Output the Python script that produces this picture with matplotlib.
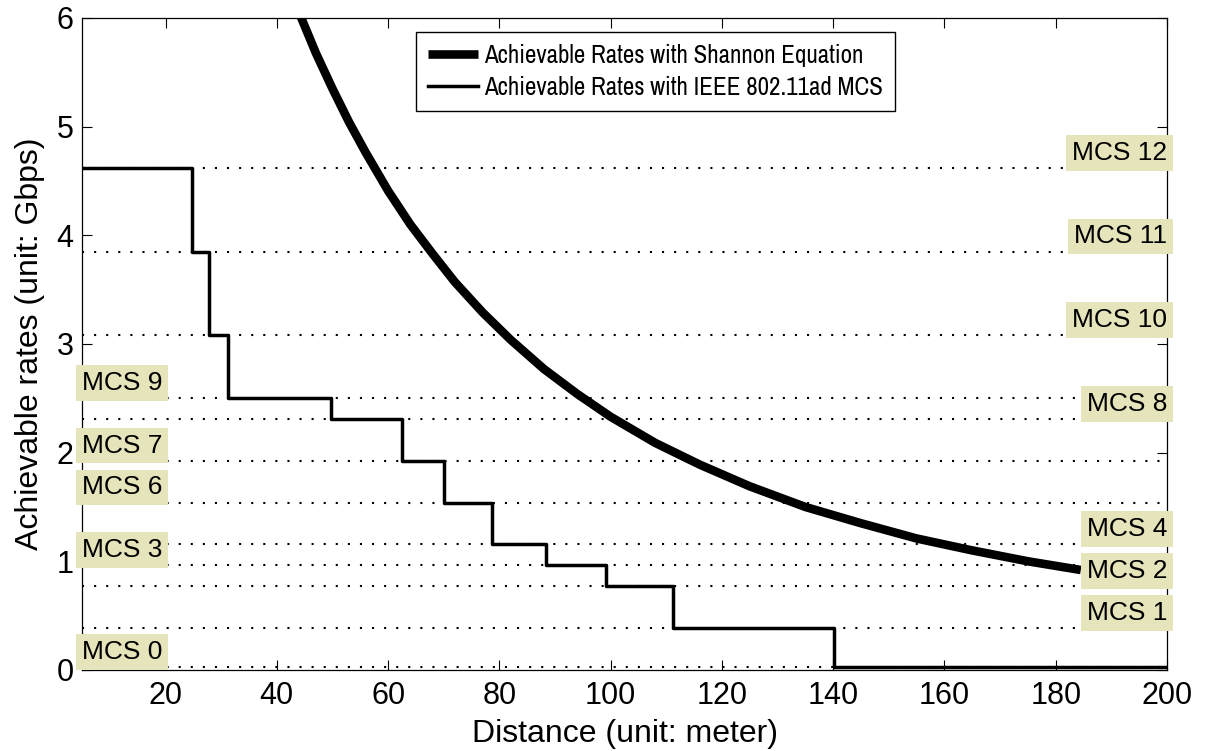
import numpy as np
import matplotlib
matplotlib.use("Agg")
import matplotlib.pyplot as plt
from matplotlib import font_manager

# IEEE 802.11ad MCS rates (Gbps) that are marked on the chart
mcs_ids = [0, 1, 2, 3, 4, 6, 7, 8, 9, 10, 11, 12]
mcs_rates = [0.0275, 0.385, 0.77, 0.9625, 1.155, 1.54, 1.925, 2.31, 2.5025, 3.08, 3.85, 4.62]
left_labels = [0, 3, 6, 7, 9]

# staircase: distance where each rate level ends
step_edges = [5, 24.85, 27.8, 31.25, 49.7, 62.5, 70.0, 78.6, 88.35, 99.1, 111.2, 140.1, 200]
step_rates = [4.62, 3.85, 3.08, 2.5025, 2.31, 1.925, 1.54, 1.155, 0.9625, 0.77, 0.385, 0.0275]

# Shannon curve
shannon_dist = [44, 47, 50, 53, 56, 60, 64, 68, 72, 77, 82, 88, 94, 100,
                108, 116, 125, 135, 145, 155, 165, 175, 184.5]
shannon_rate = [6.05, 5.68, 5.35, 5.04, 4.76, 4.41, 4.10, 3.83, 3.57, 3.29,
                3.04, 2.77, 2.54, 2.33, 2.09, 1.89, 1.69, 1.50, 1.35, 1.21,
                1.10, 1.00, 0.92]

xticks = list(range(20, 201, 20))
yticks = list(range(0, 7))

base_font = "Liberation Sans"
names = {f.name for f in font_manager.fontManager.ttflist}
legend_font = dict(family=base_font, size=16)
for cand in ["Liberation Sans Narrow", "Archivo Narrow", "Roboto Condensed"]:
    if cand in names:
        legend_font = dict(family=cand, size=18)
        break

plt.rcParams["font.family"] = [base_font, "DejaVu Sans"]

fig = plt.figure(figsize=(12.1, 7.51), dpi=100)
ax = fig.add_axes([0.0678, 0.1079, 0.8967, 0.8682])

for r in mcs_rates:
    ax.axhline(r, color="black", linewidth=1.5, linestyle=(0, (1, 4.8)),
               dash_capstyle="butt", zorder=1)

xs = step_edges
ys = step_rates + [step_rates[-1]]
ax.plot(shannon_dist, shannon_rate, color="black", linewidth=6.2,
        solid_joinstyle="round", solid_capstyle="butt", zorder=2.2,
        label="Achievable Rates with Shannon Equation")
ax.plot(xs, ys, drawstyle="steps-post", color="black", linewidth=2.5,
        zorder=2.1, label="Achievable Rates with IEEE 802.11ad MCS")

for mid, r in zip(mcs_ids, mcs_rates):
    if mid in left_labels:
        x, ha = 5, "left"
    else:
        x, ha = 200, "right"
    ax.text(x, r + 0.14, f"MCS {mid}", ha=ha, va="center", fontsize=19,
            zorder=5, clip_on=False,
            bbox=dict(boxstyle="square,pad=0.22", facecolor="#e5e4ba",
                      edgecolor="none"))

ax.set_xlim(5, 200)
ax.set_ylim(0, 6)
ax.set_xticks(xticks)
ax.set_yticks(yticks)
ax.tick_params(direction="in", length=7, width=0.8, top=True, right=True,
               labelsize=22)
ax.tick_params(axis="x", pad=8)
ax.tick_params(axis="y", pad=6)
for s in ax.spines.values():
    s.set_linewidth(0.9)

ax.set_xlabel("Distance (unit: meter)", fontsize=23, labelpad=6)
ax.set_ylabel("Achievable rates (unit: Gbps)", fontsize=23, labelpad=8)

leg = ax.legend(loc="upper left", bbox_to_anchor=(0.308, 0.979),
                borderaxespad=0, fancybox=False, framealpha=1,
                edgecolor="black", prop=legend_font, handlelength=2.0,
                handletextpad=0.25, labelspacing=0.38, borderpad=0.48)
leg.get_frame().set_linewidth(1.0)
leg.set_zorder(6)

fig.savefig("out.png", dpi=100)
